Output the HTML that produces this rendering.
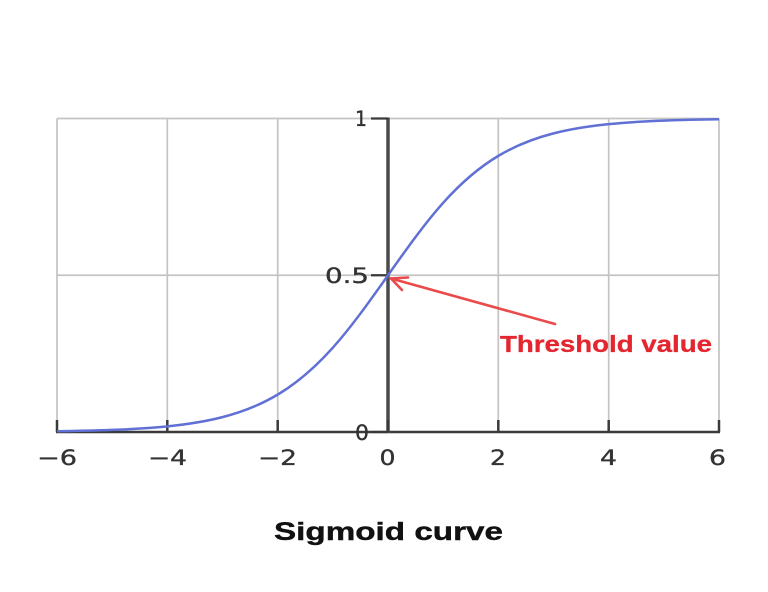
<!DOCTYPE html>
<html>
<head>
<meta charset="utf-8">
<style>
html,body{margin:0;padding:0;background:#fff;}
body{width:768px;height:592px;overflow:hidden;}
svg{display:block;}
.tk{font-family:"DejaVu Sans","Liberation Sans",sans-serif;font-size:21px;fill:#333;stroke:#333;stroke-width:0.35;}
</style>
</head>
<body>
<svg width="768" height="592" viewBox="0 0 768 592" xmlns="http://www.w3.org/2000/svg">
<rect width="768" height="592" fill="#fff"/>
<!-- grid -->
<g stroke="#c4c4c4" stroke-width="1.7" fill="none">
<line x1="57" y1="118.5" x2="57" y2="432"/>
<line x1="167.3" y1="118.5" x2="167.3" y2="432"/>
<line x1="277.7" y1="118.5" x2="277.7" y2="432"/>
<line x1="498.3" y1="118.5" x2="498.3" y2="432"/>
<line x1="608.7" y1="118.5" x2="608.7" y2="432"/>
<line x1="719" y1="118.5" x2="719" y2="432"/>
<line x1="57" y1="118.5" x2="719" y2="118.5"/>
<line x1="57" y1="275.25" x2="719" y2="275.25"/>
</g>
<!-- axes -->
<g stroke="#3a3a3a" fill="none">
<line x1="56" y1="432" x2="720" y2="432" stroke-width="2.5"/>
<line x1="388" y1="117.5" x2="388" y2="433" stroke-width="3.5" stroke="#4a4a4a"/>
<g stroke-width="2.2">
<line x1="371" y1="118.5" x2="388" y2="118.5"/>
<line x1="371" y1="275.25" x2="388" y2="275.25"/>
<line x1="371" y1="432" x2="388" y2="432"/>
</g>
<g stroke-width="2.5">
<line x1="57" y1="420" x2="57" y2="432"/>
<line x1="167.3" y1="420" x2="167.3" y2="432"/>
<line x1="277.7" y1="420" x2="277.7" y2="432"/>
<line x1="388" y1="420" x2="388" y2="432"/>
<line x1="498.3" y1="420" x2="498.3" y2="432"/>
<line x1="608.7" y1="420" x2="608.7" y2="432"/>
<line x1="719" y1="420" x2="719" y2="432"/>
</g>
</g>
<!-- curve -->
<path fill="none" stroke="#6070d4" stroke-width="2.5" d="M57,431.22 C75.39,430.96 93.76,430.60 112.15,429.90 C130.54,429.21 148.93,428.21 167.32,426.36 C185.71,424.51 204.10,421.85 222.49,417.13 C240.88,412.41 259.27,405.60 277.66,394.63 C296.05,383.66 314.44,368.24 332.83,347.69 C351.22,327.14 369.61,301.38 388,275.25 C406.39,249.13 424.78,223.36 443.17,202.81 C461.56,182.26 479.95,166.84 498.34,155.87 C516.73,144.90 535.12,138.09 553.51,133.37 C571.90,128.65 590.29,125.99 608.68,124.14 C627.07,122.29 645.46,121.30 663.85,120.60 C682.24,119.91 700.63,119.53 719.02,119.27"/>
<!-- y tick labels -->
<text class="tk" x="367" y="126" text-anchor="end" textLength="12" lengthAdjust="spacingAndGlyphs">1</text>
<text class="tk" x="369" y="283" text-anchor="end" textLength="44" lengthAdjust="spacingAndGlyphs">0.5</text>
<text class="tk" x="369" y="440" text-anchor="end" textLength="14" lengthAdjust="spacingAndGlyphs">0</text>
<!-- x tick labels -->
<text class="tk" x="37" y="465" textLength="40" lengthAdjust="spacingAndGlyphs">−6</text>
<text class="tk" x="148" y="465" textLength="39" lengthAdjust="spacingAndGlyphs">−4</text>
<text class="tk" x="258" y="465" textLength="39" lengthAdjust="spacingAndGlyphs">−2</text>
<text class="tk" x="379.5" y="465" textLength="16" lengthAdjust="spacingAndGlyphs">0</text>
<text class="tk" x="490" y="465" textLength="16" lengthAdjust="spacingAndGlyphs">2</text>
<text class="tk" x="600" y="465" textLength="17" lengthAdjust="spacingAndGlyphs">4</text>
<text class="tk" x="709" y="465" textLength="17" lengthAdjust="spacingAndGlyphs">6</text>
<!-- arrow -->
<g stroke="#ea4a4a" stroke-width="2.6" fill="none" stroke-linecap="round">
<line x1="555" y1="324" x2="391" y2="278.5"/>
<polyline points="408,277.5 391,278.5 402,290"/>
</g>
<text x="500" y="352" font-family="'Liberation Sans',sans-serif" font-weight="bold" font-size="23" fill="#e3262f" stroke="#e3262f" stroke-width="0.3" textLength="212" lengthAdjust="spacingAndGlyphs">Threshold value</text>
<!-- title -->
<text x="274" y="540" font-family="'Liberation Sans',sans-serif" font-weight="bold" font-size="25" fill="#111" stroke="#111" stroke-width="0.4" textLength="229" lengthAdjust="spacingAndGlyphs">Sigmoid curve</text>
</svg>
</body>
</html>
